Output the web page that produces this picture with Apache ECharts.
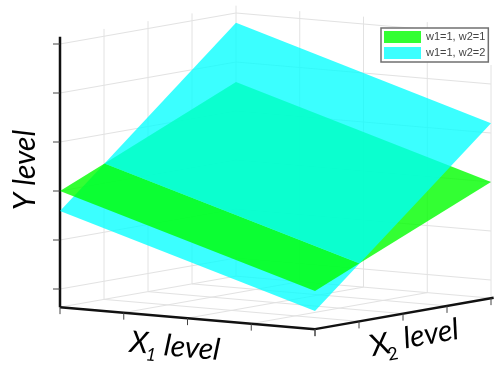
<!DOCTYPE html>
<html>
<head>
<meta charset="utf-8">
<style>html,body{margin:0;padding:0;background:#fff}#main{width:500px;height:368px}</style>
<script src="https://cdn.jsdelivr.net/npm/echarts@6/dist/echarts.min.js"></script>
</head>
<body>
<div id="main"></div>
<script>
// axis levels
var x1Ticks = [0, 1, 2, 3, 4];
var x2Ticks = [0, 1, 2, 3, 4];
var yTicks = [0, 1, 2, 3, 4, 5];
var yFloor = -0.37, yTop = 5.15;

// surface heights at the corners [x1=0, x1=4] for x2=0 and x2=4
var x1Ends = [0, 4];
var x2Ends = [0, 4];
var greenY = [[2, 0.41], [3.59, 2]];
var cyanY = [[1.59, 0], [4.8, 3.2]];
var seriesNames = ['w1=1, w2=1', 'w1=1, w2=2'];

/* 3d view: level -> pixel position, fed to the hidden pixel axes */
function project(x1, x2, y) {
    return [
        60 + x1 * 63.75 + x2 * 44,
        289 + x1 * 5.5 - x2 * 7.75 - y * 49
    ];
}
function pt(api, x1, x2, y) {
    return api.coord(project(x1, x2, y));
}

function lineEl(api, a, b, color, width) {
    var p = pt(api, a[0], a[1], a[2]), q = pt(api, b[0], b[1], b[2]);
    return {
        type: 'line',
        shape: {x1: p[0], y1: p[1], x2: q[0], y2: q[1]},
        style: {stroke: color, lineWidth: width}
    };
}

// where the two planes cross, along x2
var crossX2 = x2Ends[1] * (greenY[0][0] - cyanY[0][0]) /
    ((greenY[0][0] - cyanY[0][0]) - (greenY[1][0] - cyanY[1][0]));

function heightAt(h, i, x2) {
    return h[0][i] + (h[1][i] - h[0][i]) * x2 / x2Ends[1];
}

function surfacePart(h, from, to, color, name) {
    return {
        name: name,
        type: 'custom',
        coordinateSystem: 'cartesian2d',
        itemStyle: {color: color},
        silent: true,
        data: [[0, 0]],
        renderItem: function (params, api) {
            var a = x1Ends[0], b = x1Ends[1];
            var pts = [
                pt(api, a, from, heightAt(h, 0, from)),
                pt(api, b, from, heightAt(h, 1, from)),
                pt(api, b, to, heightAt(h, 1, to)),
                pt(api, a, to, heightAt(h, 0, to))
            ];
            return {
                type: 'polygon',
                shape: {points: pts},
                style: {fill: color}
            };
        }
    };
}

function gridItem(params, api) {
    var kids = [], grey = '#e2e2e2';
    var maxX1 = x1Ticks[x1Ticks.length - 1], maxX2 = x2Ticks[x2Ticks.length - 1];
    // walls
    yTicks.forEach(function (y) {
        kids.push(lineEl(api, [0, 0, y], [0, maxX2, y], grey, 1));
        kids.push(lineEl(api, [0, maxX2, y], [maxX1, maxX2, y], grey, 1));
    });
    x2Ticks.forEach(function (v) {
        if (v > 0) kids.push(lineEl(api, [0, v, yFloor], [0, v, yTop], grey, 1));
    });
    x1Ticks.forEach(function (v) {
        if (v > 0) kids.push(lineEl(api, [v, maxX2, yFloor], [v, maxX2, yTop], grey, 1));
    });
    // floor
    x1Ticks.forEach(function (v) {
        kids.push(lineEl(api, [v, 0, yFloor], [v, maxX2, yFloor], grey, 1));
    });
    x2Ticks.forEach(function (v) {
        kids.push(lineEl(api, [0, v, yFloor], [maxX1, v, yFloor], grey, 1));
    });
    // the legend box blanks the grid right of it too
    kids.push({type: 'rect', shape: {x: 487, y: 0, width: 13, height: 65}, style: {fill: '#fff'}});
    return {type: 'group', children: kids};
}

function axisItem(params, api) {
    var kids = [], black = '#111', tick = '#444';
    var maxX1 = x1Ticks[x1Ticks.length - 1], maxX2 = x2Ticks[x2Ticks.length - 1];
    kids.push(lineEl(api, [0, 0, yFloor], [0, 0, yTop], black, 2.5));
    kids.push(lineEl(api, [0, 0, yFloor], [maxX1, 0, yFloor], black, 2.5));
    kids.push(lineEl(api, [maxX1, 0, yFloor], [maxX1, maxX2 + 0.06, yFloor], black, 2.5));
    yTicks.forEach(function (y) {
        var p = pt(api, 0, 0, y);
        kids.push({type: 'line', shape: {x1: p[0] - 7, y1: p[1], x2: p[0], y2: p[1]}, style: {stroke: tick, lineWidth: 1}});
    });
    x1Ticks.forEach(function (v) {
        var p = pt(api, v, 0, yFloor);
        kids.push({type: 'line', shape: {x1: p[0], y1: p[1], x2: p[0], y2: p[1] + 7}, style: {stroke: tick, lineWidth: 1}});
    });
    x2Ticks.forEach(function (v) {
        var p = pt(api, maxX1, v, yFloor);
        kids.push({type: 'line', shape: {x1: p[0], y1: p[1], x2: p[0], y2: p[1] + 7}, style: {stroke: tick, lineWidth: 1}});
    });
    return {type: 'group', children: kids};
}

function labelGraphic(x, y, rot, text, size, italic) {
    return {
        type: 'text', x: x, y: y, rotation: rot * Math.PI / 180, silent: true,
        style: {
            text: text, fill: '#000', align: 'center', verticalAlign: 'middle',
            fontFamily: 'Lato', fontSize: size, fontStyle: italic ? 'italic' : 'normal'
        }
    };
}

var chart = echarts.init(document.getElementById('main'));
chart.setOption({
    animation: false,
    backgroundColor: '#fff',
    grid: {left: 0, right: 0, top: 0, bottom: 0},
    xAxis: {type: 'value', min: 0, max: 500, show: false},
    yAxis: {type: 'value', min: 0, max: 368, inverse: true, show: false},
    legend: {
        orient: 'vertical', left: 381, top: 28,
        data: seriesNames,
        icon: 'rect', itemWidth: 37, itemHeight: 12, itemGap: 4,
        padding: [3, 3, 3, 3],
        backgroundColor: '#fff', borderColor: '#707070', borderWidth: 1.5,
        selectedMode: false,
        textStyle: {fontFamily: 'Liberation Sans', fontSize: 11, color: '#444'}
    },
    series: [
        {type: 'custom', silent: true, z: 1, data: [[0, 0]], renderItem: gridItem},
        {type: 'custom', silent: true, z: 1, data: [[0, 0]], renderItem: axisItem},
        surfacePart(cyanY, 0, crossX2, 'rgba(0,255,255,0.77)', seriesNames[1]),
        surfacePart(greenY, 0, crossX2, 'rgba(0,255,0,0.8)', seriesNames[0]),
        surfacePart(greenY, crossX2, x2Ends[1], 'rgba(0,255,0,0.8)', seriesNames[0]),
        surfacePart(cyanY, crossX2, x2Ends[1], 'rgba(0,255,255,0.77)', seriesNames[1])
    ],
    graphic: [
        labelGraphic(25, 170, 90, 'Y level', 30, true),
        labelGraphic(139, 343, -5, 'X', 30, true),
        labelGraphic(151, 355, -5, '1', 18, true),
        labelGraphic(192, 348, -5, 'level', 30, true),
        labelGraphic(380, 345, 10, 'X', 30, false),
        labelGraphic(393, 354, 10, '2', 18, false),
        labelGraphic(431, 334, 10, 'level', 30, true)
    ]
});
</script>
</body>
</html>
